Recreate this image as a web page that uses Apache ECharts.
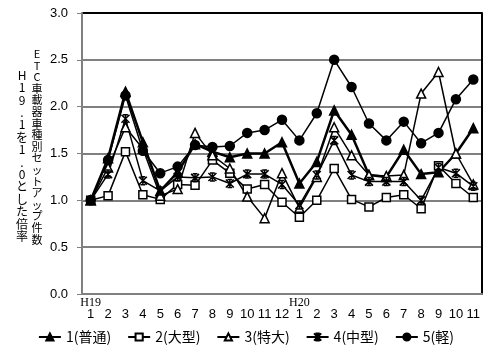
<!DOCTYPE html>
<html>
<head>
<meta charset="utf-8">
<script src="https://cdn.jsdelivr.net/npm/echarts@6/dist/echarts.min.js"></script>
<style>
html,body{margin:0;padding:0;background:#fff;}
#c{width:492px;height:362px;}
</style>
</head>
<body>
<div id="c"></div>
<script>
// ---- data ----
var months = ['1','2','3','4','5','6','7','8','9','10','11','12','1','2','3','4','5','6','7','8','9','10','11'];
var eraLabels = ['H19','','','','','','','','','','','','H20','','','','','','','','','',''];
var seriesNames = ['1(普通)','2(大型)','3(特大)','4(中型)','5(軽)'];
var futsu   = [1.00,1.45,2.16,1.62,1.10,1.30,1.60,1.52,1.46,1.50,1.50,1.62, 1.18,1.41,1.96,1.70,1.27,1.25,1.54,1.28,1.30,1.50,1.77];
var ogata   = [1.00,1.05,1.52,1.06,1.01,1.17,1.16,1.43,1.29,1.12,1.17,0.98, 0.82,1.00,1.34,1.01,0.93,1.03,1.06,0.91,1.37,1.18,1.03];
var tokudai = [1.00,1.35,1.78,1.55,1.05,1.12,1.72,1.48,1.34,1.04,0.81,1.29, 0.92,1.25,1.78,1.48,1.27,1.26,1.27,2.14,2.37,1.50,1.17];
var chugata = [1.00,1.28,1.87,1.21,1.10,1.25,1.24,1.25,1.18,1.28,1.28,1.17, 0.95,1.27,1.64,1.27,1.20,1.20,1.20,1.00,1.35,1.29,1.15];
var kei     = [1.00,1.43,2.12,1.53,1.29,1.36,1.59,1.57,1.58,1.72,1.75,1.86, 1.64,1.93,2.50,2.21,1.82,1.64,1.84,1.61,1.72,2.08,2.29];
var yTicks = [0, 0.5, 1.0, 1.5, 2.0, 2.5, 3.0];
var yTitleRight = 'ETC車載器車種別セットアップ件数';
var yTitleLeft = 'H19.1を1.0とした倍率';

var chart = echarts.init(document.getElementById('c'), null, {renderer:'canvas'});
var starPath = 'path://M0,0L10,10M10,0L0,10M5,0L5,10M2,0L8,0M2,10L8,10';

function mk(name, data, symbol, fill, lw, size){
  return {
    name: name, type: 'line', data: data,
    symbol: symbol, symbolSize: size,
    color: '#000',
    lineStyle: {color:'#000', width: lw},
    itemStyle: {color: fill, borderColor:'#000', borderWidth: 1.5},
    emphasis: {disabled:true},
    animation: false
  };
}

var option = {
  animation: false,
  backgroundColor: '#fff',
  grid: {left: 82, right: 10, top: 13, bottom: 68},
  xAxis: {
    type: 'category',
    data: months,
    boundaryGap: true,
    axisLine: {lineStyle:{color:'#808080', width:2}},
    axisTick: {inside:true, length:4, lineStyle:{color:'#808080', width:1}},
    axisLabel: {
      interval: 0, margin: 3,
      formatter: function(v, i){
        return '{h|' + (eraLabels[i] || ' ') + '}\n{n|' + v + '}';
      },
      rich: {
        h: {fontFamily:'Liberation Serif', fontSize:12, lineHeight:11, color:'#000'},
        n: {fontFamily:'Liberation Sans', fontSize:13, lineHeight:12, color:'#000'}
      }
    }
  },
  yAxis: [{
    type: 'value', min: 0, max: 3, interval: 0.5,
    axisLine: {show:true, lineStyle:{color:'#808080', width:2}},
    axisTick: {show:true, length:5, lineStyle:{color:'#808080', width:1}},
    axisLabel: {margin: 14, color:'#000', fontFamily:'Liberation Sans', fontSize:13,
      formatter: function(v){ return v.toFixed(1); }},
    splitLine: {show:true, lineStyle:{color:['#808080','#808080','#808080','#808080','#808080','#808080','#000'], width:2}}
  },{
    type: 'value', min: 0, max: 3, interval: 0.5, position: 'right',
    axisLine: {show:true, lineStyle:{color:'#000', width:2}},
    axisTick: {show:false}, axisLabel: {show:false}, splitLine: {show:false}
  }],
  legend: {
    left: 'center', top: 325,
    itemWidth: 22, itemHeight: 9, itemGap: 16,
    textStyle: {fontFamily:'Noto Sans CJK JP', fontSize:14, color:'#000'},
    data: seriesNames
  },
  graphic: [
    {type:'text', style:{text: yTitleRight.split('').join('\n'), x:37, y:48, align:'center', verticalAlign:'top',
      font:'11px "Noto Sans CJK JP"', lineHeight:11.6, fill:'#000'}},
    {type:'text', style:{text: yTitleLeft.split('').join('\n'), x:22, y:69, align:'center', verticalAlign:'top',
      font:'12px "Noto Sans CJK JP"', lineHeight:12.4, fill:'#000'}}
  ],
  series: [
    mk(seriesNames[0], futsu, 'triangle', '#000', 2.5, 9),
    mk(seriesNames[1], ogata, 'rect', '#fff', 1.5, 8),
    mk(seriesNames[2], tokudai, 'triangle', '#fff', 1.5, 9),
    mk(seriesNames[3], chugata, starPath, '#000', 1.5, 8),
    mk(seriesNames[4], kei, 'circle', '#000', 1.5, 9)
  ]
};
chart.setOption(option);
</script>
</body>
</html>
